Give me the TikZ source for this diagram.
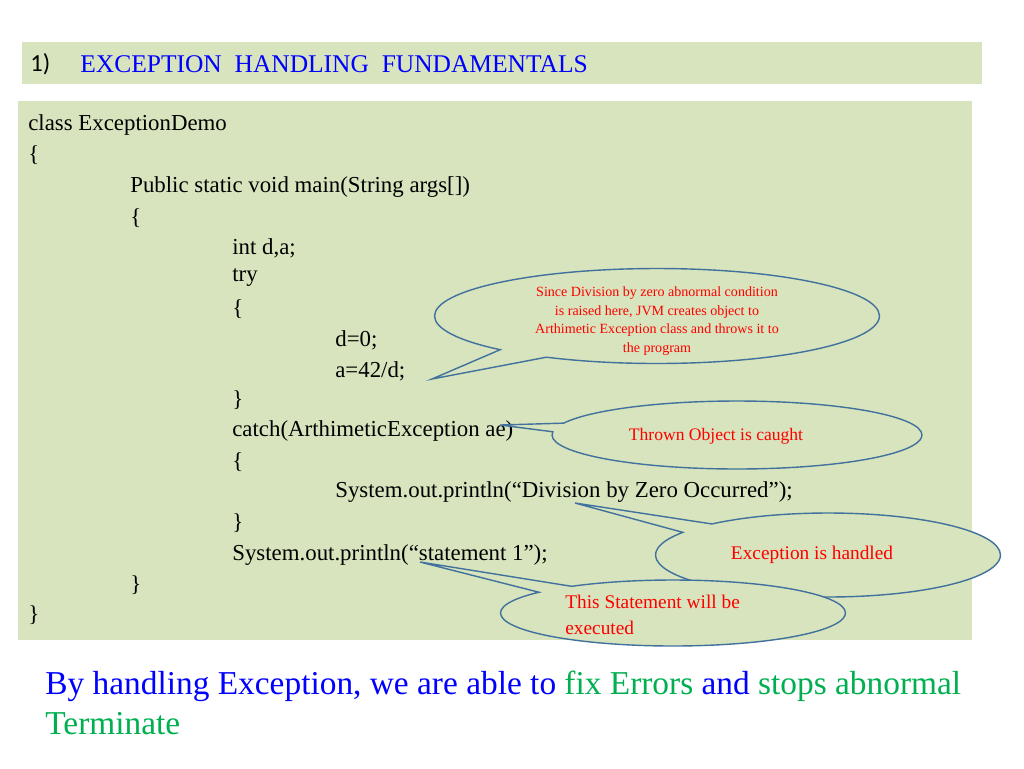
\documentclass[tikz,border=0pt]{standalone}
\usepackage{fontspec}
\setmainfont{Liberation Serif}
\newfontfamily\headfont{Carlito}
\usetikzlibrary{shapes.callouts}
\definecolor{panel}{HTML}{D7E4BD}
\definecolor{callline}{HTML}{41719C}
\definecolor{headblue}{HTML}{0000FF}
\definecolor{okgreen}{HTML}{00B050}

\begin{document}
\begin{tikzpicture}[x=0.02cm, y=-0.02cm]
%styles
\tikzstyle{codeLine}=[anchor=west, inner sep=0pt, font=\fontsize{13}{15}\selectfont]
\tikzstyle{bubble}=[ellipse callout, draw=callline, thick, fill=panel, text=red, align=center, inner sep=0pt, callout pointer width=0.12cm]
\tikzstyle{noteText}=[text=red, inner sep=0pt]

\useasboundingbox (0,0) rectangle (1024,768);

%header band
\fill[panel] (22,42) rectangle (982,84);
\node[anchor=west, inner sep=0pt, font=\headfont\fontsize{14}{16}\selectfont] (num) at (30,64) {1)};
\node[anchor=west, inner sep=0pt, text=headblue, font=\fontsize{14.5}{16}\selectfont] (title) at (80,64) {EXCEPTION\ \ HANDLING\ \ FUNDAMENTALS};

%code panel
\fill[panel] (18,101) rectangle (972,640);
\node[codeLine] (l1) at (28,125) {class ExceptionDemo};
\node[codeLine] (l2) at (28,155) {\{};
\node[codeLine] (l3) at (130,187) {Public static void main(String args[])};
\node[codeLine] (l4) at (130,218) {\{};
\node[codeLine] (l5) at (232,248) {int d,a;};
\node[codeLine] (l6) at (232,278) {try};
\node[codeLine] (l7) at (232,309) {\{};
\node[codeLine] (l8) at (335,340) {d=0;};
\node[codeLine] (l9) at (335,371) {a=42/d;};
\node[codeLine] (l10) at (232,400) {\}};
\node[codeLine] (l11) at (232,431) {catch(ArthimeticException ae)};
\node[codeLine] (l12) at (232,462) {\{};
\node[codeLine] (l13) at (335,492) {System.out.println(“Division by Zero Occurred”);};
\node[codeLine] (l14) at (232,523) {\}};
\node[codeLine] (l15) at (232,555) {System.out.println(“statement 1”);};
\node[codeLine] (l16) at (130,585) {\}};
\node[codeLine] (l17) at (28,615) {\}};

%callouts
\coordinate (tipA) at (432,379);
\coordinate (tipB) at (500,425);
\coordinate (tipC) at (575,503);
\coordinate (tipD) at (420,562);
\node[bubble, minimum width=8.9cm, minimum height=1.9cm, callout absolute pointer={(tipA)}] (raise) at (657,316) {};
\node[noteText, align=center, font=\fontsize{8}{10.5}\selectfont] (raiseTxt) at (657,321)
  {Since Division by zero abnormal condition\\is raised here, JVM creates object to\\Arthimetic Exception class and throws it to\\the program};
\node[bubble, minimum width=7.4cm, minimum height=1.36cm, callout absolute pointer={(tipB)}] (caught) at (737,435) {};
\node[noteText, font=\fontsize{10}{12}\selectfont] (caughtTxt) at (716,436) {Thrown Object is caught};
\node[bubble, minimum width=6.9cm, minimum height=1.68cm, callout absolute pointer={(tipC)}] (handled) at (828,555) {};
\node[noteText, font=\fontsize{11}{13}\selectfont] (handledTxt) at (812,555) {Exception is handled};
\node[bubble, minimum width=6.9cm, minimum height=1.32cm, callout absolute pointer={(tipD)}] (exec) at (673,613) {};
\node[noteText, anchor=west, align=left, font=\fontsize{11}{15}\selectfont] (execTxt) at (565,615) {This Statement will be\\executed};

%conclusion
\node[anchor=west, inner sep=0pt, align=left, font=\fontsize{19}{23}\selectfont] (concl) at (45,703)
  {\textcolor{headblue}{By handling Exception, we are able to }\textcolor{okgreen}{fix Errors }\textcolor{headblue}{and }\textcolor{okgreen}{stops abnormal}\\\textcolor{okgreen}{Terminate}};
\end{tikzpicture}
\end{document}
